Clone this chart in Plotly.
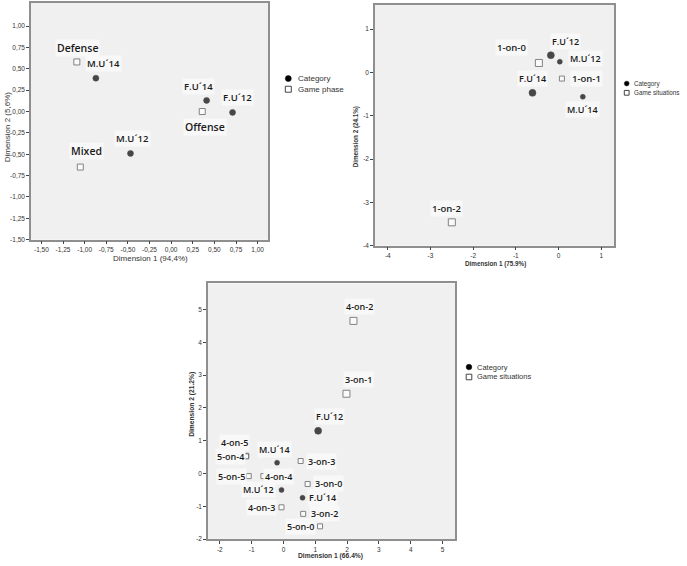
import plotly.graph_objects as go

W, H = 687, 566

# ---------------- DATA ----------------
# Panel 1: Category x Game phase (Dimension 1 94,4% / Dimension 2 5,6%)
p1_cat_names = ["M.U´14", "F.U´14", "F.U´12", "M.U´12"]
p1_cat_x = [-0.87, 0.41, 0.71, -0.47]
p1_cat_y = [0.39, 0.13, -0.01, -0.49]
p1_grp_names = ["Defense", "Offense", "Mixed"]
p1_grp_x = [-1.09, 0.36, -1.05]
p1_grp_y = [0.58, 0.00, -0.65]
p1_ticks = [-1.5, -1.25, -1.0, -0.75, -0.5, -0.25, 0.0, 0.25, 0.5, 0.75, 1.0]
p1_ticktext = ["-1,50", "-1,25", "-1,00", "-0,75", "-0,50", "-0,25", "0,00",
               "0,25", "0,50", "0,75", "1,00"]

# Panel 2: Category x Game situations (1-on-x)
p2_cat_names = ["F.U´12", "M.U´12", "F.U´14", "M.U´14"]
p2_cat_x = [-0.18, 0.03, -0.61, 0.57]
p2_cat_y = [0.40, 0.25, -0.47, -0.56]
p2_grp_names = ["1-on-0", "1-on-1", "1-on-2"]
p2_grp_x = [-0.46, 0.08, -2.50]
p2_grp_y = [0.22, -0.14, -3.46]
p2_xticks = [-4, -3, -2, -1, 0, 1]
p2_xticktext = ["-4", "-3", "-2", "-1", "0", "1"]
p2_yticks = [-4, -3, -2, -1, 0, 1]
p2_yticktext = ["-4", "-3", "-2", "-1", "0", "1"]

# Panel 3: Category x Game situations (n-on-m)
p3_cat_names = ["F.U´12", "M.U´14", "M.U´12", "F.U´14"]
p3_cat_x = [1.09, -0.20, -0.06, 0.60]
p3_cat_y = [1.30, 0.33, -0.50, -0.74]
p3_grp_names = ["4-on-2", "3-on-1", "4-on-5", "5-on-4", "3-on-3", "5-on-5",
                "4-on-4", "3-on-0", "4-on-3", "3-on-2", "5-on-0"]
p3_grp_x = [2.20, 1.98, -1.17, -1.17, 0.54, -1.09, -0.63, 0.76, -0.06, 0.62, 1.15]
p3_grp_y = [4.65, 2.43, 0.54, 0.52, 0.38, -0.08, -0.08, -0.32, -1.03, -1.23, -1.61]
p3_xticks = [-2, -1, 0, 1, 2, 3, 4, 5]
p3_xticktext = ["-2", "-1", "0", "1", "2", "3", "4", "5"]
p3_yticks = [-2, -1, 0, 1, 2, 3, 4, 5]
p3_yticktext = ["-2", "-1", "0", "1", "2", "3", "4", "5"]

# ---------------- STYLE ----------------
# label offsets (px) relative to each point
p1_cat_off = [(8, 15), (-8, 14), (5, 15), (2, 15)]
p1_grp_off = [(1, 14), (3, -15), (6, 16)]
p2_cat_off = [(15, 14), (26, 3), (0, 14), (0, -13)]
p2_grp_off = [(-27, 15), (25, 0), (-5, 14)]
p3_cat_off = [(11, 14), (-3, 13), (-23, 0), (20, 0)]
p3_grp_off = [(6, 14), (12, 14), (-12, 13), (-16, 0), (21, 0), (-17, 0),
              (15, 0), (21, 0), (-20, 0), (21, 0), (-20, 0)]
p2_cat_size = [7, 5, 7, 5]
p2_grp_size = [7, 5, 7]
p3_cat_size = [7, 5, 5, 5]
p3_grp_size = [7, 7, 5, 5, 5, 5, 5, 5, 5, 5, 5]

LABEL_FONT = "Open Sans"
TICK_FONT = "Liberation Sans"


def xd(a, b):
    return [a / W, b / W]


def yd(top, bottom):
    return [1 - bottom / H, 1 - top / H]


fig = go.Figure()

panels = [
    dict(ax="", xdom=xd(31, 268), ydom=yd(3, 241), xr=[-1.62, 1.12], yr=[-1.5, 1.27],
         xt=p1_ticks, xtt=p1_ticktext, yt=p1_ticks, ytt=p1_ticktext,
         cn=p1_cat_names, cx=p1_cat_x, cy=p1_cat_y, co=p1_cat_off, cs=[6] * 4,
         gn=p1_grp_names, gx=p1_grp_x, gy=p1_grp_y, go_=p1_grp_off, gs=[6] * 3,
         cfont=9.5, gfont=10.5),
    dict(ax="2", xdom=xd(375, 614), ydom=yd(5, 247), xr=[-4.3, 1.3], yr=[-4.0, 1.56],
         xt=p2_xticks, xtt=p2_xticktext, yt=p2_yticks, ytt=p2_yticktext,
         cn=p2_cat_names, cx=p2_cat_x, cy=p2_cat_y, co=p2_cat_off, cs=p2_cat_size,
         gn=p2_grp_names, gx=p2_grp_x, gy=p2_grp_y, go_=p2_grp_off, gs=p2_grp_size,
         cfont=9, gfont=9.5),
    dict(ax="3", xdom=xd(208, 455), ydom=yd(285, 542), xr=[-2.37, 5.39], yr=[-2.0, 5.79],
         xt=p3_xticks, xtt=p3_xticktext, yt=p3_yticks, ytt=p3_yticktext,
         cn=p3_cat_names, cx=p3_cat_x, cy=p3_cat_y, co=p3_cat_off, cs=p3_cat_size,
         gn=p3_grp_names, gx=p3_grp_x, gy=p3_grp_y, go_=p3_grp_off, gs=p3_grp_size,
         cfont=9, gfont=9),
]

annotations = []
layout_axes = {}
for p in panels:
    a = p["ax"]
    xa, ya = "x" + a, "y" + a
    fig.add_trace(go.Scatter(
        x=p["cx"], y=p["cy"], mode="markers", xaxis=xa, yaxis=ya, showlegend=False,
        marker=dict(symbol="circle", size=p["cs"], color="black",
                    line=dict(color="black", width=0.5)),
        cliponaxis=True, hoverinfo="text", text=p["cn"]))
    fig.add_trace(go.Scatter(
        x=p["gx"], y=p["gy"], mode="markers", xaxis=xa, yaxis=ya, showlegend=False,
        marker=dict(symbol="square", size=p["gs"], color="white",
                    line=dict(color="#555555", width=1)),
        cliponaxis=True, hoverinfo="text", text=p["gn"]))
    for names, xs, ys, offs, fs in ((p["cn"], p["cx"], p["cy"], p["co"], p["cfont"]),
                                    (p["gn"], p["gx"], p["gy"], p["go_"], p["gfont"])):
        for n, x, y, (dx, dy) in zip(names, xs, ys, offs):
            annotations.append(dict(
                x=x, y=y, xref=xa, yref=ya, text=n, showarrow=False,
                xshift=dx, yshift=dy, bgcolor="#f8f8f8",
                font=dict(family=LABEL_FONT, size=fs, color="#1a1a1a", weight=600)))
    axkey = "" if a == "" else a
    common = dict(showgrid=False, zeroline=False, showline=True, mirror=True,
                  linecolor="#8f8f8f", linewidth=1.5, ticks="outside", ticklen=3,
                  tickcolor="#444444", tickwidth=1,
                  tickfont=dict(family=TICK_FONT, size=6.5, color="#333333"))
    layout_axes["xaxis" + axkey] = dict(domain=p["xdom"], range=p["xr"], anchor=ya,
                                        tickvals=p["xt"], ticktext=p["xtt"], **common)
    layout_axes["yaxis" + axkey] = dict(domain=p["ydom"], range=p["yr"], anchor=xa,
                                        tickvals=p["yt"], ticktext=p["ytt"], **common)

# axis titles
def px_ann(x, y, text, size, bold, angle=0, anchor="center"):
    return dict(x=x / W, y=1 - y / H, xref="paper", yref="paper", text=text,
                showarrow=False, textangle=angle, xanchor=anchor, yanchor="middle",
                font=dict(family=TICK_FONT, size=size, color="#333333",
                          weight=700 if bold else 400))

annotations += [
    px_ann(150, 260, "Dimension 1 (94,4%)", 8, False),
    px_ann(7, 128, "Dimension 2 (5,6%)", 8, False, -90),
    px_ann(495, 265, "Dimension 1 (75.9%)", 6.3, True),
    px_ann(356, 137, "Dimension 2 (24.1%)", 6.3, True, -90),
    px_ann(330, 559, "Dimension 1 (66.4%)", 6.7, True),
    px_ann(192, 407, "Dimension 2 (21.2%)", 6.7, True, -90),
]

# manual legends
shapes = []
legends = [
    (288.3, 79, 89.7, 296, "Game phase", 8, 3.0),
    (626.7, 84, 93.3, 632, "Game situations", 6.3, 2.4),
    (469, 369, 379, 475, "Game situations", 7.5, 2.8),
]
for cx, cy1, cy2, tx, gname, fs, r in legends:
    shapes.append(dict(type="circle", xref="paper", yref="paper",
                       x0=(cx - r) / W, x1=(cx + r) / W,
                       y0=1 - (cy1 + r) / H, y1=1 - (cy1 - r) / H,
                       fillcolor="black", line=dict(color="black", width=0.5)))
    shapes.append(dict(type="rect", xref="paper", yref="paper",
                       x0=(cx - r) / W, x1=(cx + r) / W,
                       y0=1 - (cy2 + r) / H, y1=1 - (cy2 - r) / H,
                       fillcolor="white", line=dict(color="#444444", width=1)))
    annotations.append(px_ann(tx, cy1, "Category", fs, False, anchor="left"))
    annotations.append(px_ann(tx, cy2, gname, fs, False, anchor="left"))

fig.update_layout(
    width=W, height=H, autosize=False,
    margin=dict(l=0, r=0, t=0, b=0),
    paper_bgcolor="white", plot_bgcolor="#f0f0f0",
    showlegend=False,
    annotations=annotations, shapes=shapes,
    **layout_axes,
)

fig.write_html("out.html", config={"displayModeBar": False},
               post_script="document.body.style.margin='0';document.body.style.overflow='hidden';")
